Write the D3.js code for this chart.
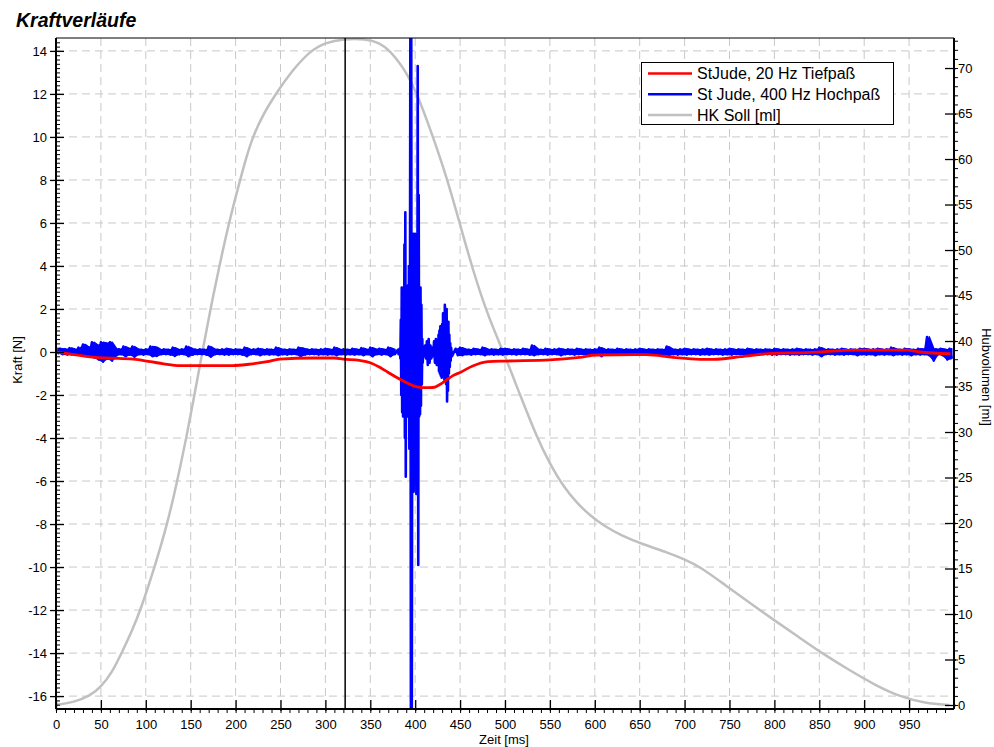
<!DOCTYPE html>
<html><head><meta charset="utf-8">
<script src="https://cdn.jsdelivr.net/npm/d3@7"></script>
<style>
body{margin:0;background:#fff;}
text{font-family:"Liberation Sans", Arial, sans-serif;}
</style>
</head><body>
<svg id="c" width="994" height="747"></svg>
<script>
// ---------------- DATA ----------------
const chartTitle = "Kraftverläufe";
const seriesNames = ["StJude, 20 Hz Tiefpaß", "St Jude, 400 Hz Hochpaß", "HK Soll [ml]"];
const timeTicks = [0,50,100,150,200,250,300,350,400,450,500,550,600,650,700,750,800,850,900,950];
const forceTicks = [-16,-14,-12,-10,-8,-6,-4,-2,0,2,4,6,8,10,12,14];
const volumeTicks = [0,5,10,15,20,25,30,35,40,45,50,55,60,65,70];
const cursorTime = 322;

// HK Soll [ml] (right axis)
const hkTime = [0,20,38,50,62,73,84,94,110,124,135,145,154,163,172,181,192,205,212,219,230,245,262,283,300,320,345,360,372,385,400,420,435,448,465,482,500,517,536,550,565,580,595,610,630,655,680,700,717,745,773,800,828,856,884,912,940,968,995];
const hkVol  = [0,0.3,1.0,2.0,3.5,5.7,8.0,10.4,15.2,19.9,24.6,29.3,34,38.8,43.5,47.8,52.8,57.7,60.2,62.4,64.8,67.2,69.6,71.9,72.8,73.2,73.2,72.8,71.9,70.3,67.8,62.4,58,53.5,47.5,42.5,38.4,34,29.3,26.5,24.0,22.2,20.8,19.7,18.6,17.6,16.8,16.0,15.2,13.2,11.2,9.3,7.4,5.5,3.8,2.2,0.9,0.2,0];

// StJude 20 Hz Tiefpass [N]
const lowTime  = [0,20,38,56,86,105,120,138,197,215,235,249,286,310,320,338,350,360,370,380,390,400,410,420,428,435,442,450,464,481,502,550,583,602,658,687,717,732,762,799,836,892,948,962,996];
const lowForce = [0,-0.12,-0.23,-0.28,-0.33,-0.45,-0.55,-0.63,-0.63,-0.57,-0.45,-0.33,-0.28,-0.28,-0.33,-0.39,-0.5,-0.7,-0.95,-1.2,-1.42,-1.6,-1.66,-1.65,-1.5,-1.3,-1.1,-0.95,-0.65,-0.45,-0.42,-0.37,-0.25,-0.14,-0.12,-0.25,-0.34,-0.34,-0.22,-0.06,-0.03,0.09,0.09,0,-0.08];

// St Jude 400 Hz Hochpass: peak values per 5 ms bin (null = burst window)
const highBinMs = 5;
const highPeakPos = [
 .12,.15,.12,.18,.12,.2,.35,.2,.45,.3,.45,.4,.45,.15,.12,.25,.15,.25,.12,.1,
 .12,.25,.22,.1,.12,.1,.2,.1,.12,.25,.15,.1,.12,.1,.25,.12,.1,.12,.15,.1,
 .12,.1,.2,.1,.12,.15,.1,.12,.1,.2,.12,.1,.12,.1,.2,.15,.1,.12,.1,.12,
 .15,.1,.2,.1,.12,.1,.15,.1,.18,.1,.2,.12,.15,.1,.2,.12,null,null,null,null,
 null,null,null,null,null,null,null,null,null,.15,.2,.12,.1,.15,.1,.2,.1,.12,.1,.15,
 .15,.1,.12,.1,.15,.1,.3,.12,.1,.15,.1,.12,.15,.1,.12,.1,.15,.1,.12,.1,
 .12,.2,.1,.12,.1,.15,.1,.12,.1,.12,.15,.1,.12,.1,.12,.1,.25,.12,.1,.12,
 .15,.1,.12,.1,.12,.15,.1,.12,.1,.12,.15,.1,.12,.1,.15,.1,.12,.1,.12,.1,
 .15,.1,.12,.1,.12,.15,.1,.12,.1,.12,.2,.1,.12,.1,.12,.15,.1,.12,.1,.15,
 .15,.1,.12,.15,.1,.12,.2,.12,.1,.15,.12,.1,.15,.12,.7,.15,.12,.15,.1,.15];
const highPeakNeg = [
 -.05,-.1,-.12,-.1,-.12,-.12,-.15,-.18,-.25,-.35,-.45,-.3,-.4,-.15,-.1,-.2,-.12,-.22,-.1,-.12,
 -.1,-.2,-.18,-.1,-.1,-.12,-.18,-.1,-.1,-.2,-.12,-.1,-.1,-.12,-.22,-.1,-.1,-.12,-.12,-.1,
 -.1,-.12,-.2,-.1,-.1,-.15,-.1,-.12,-.1,-.15,-.1,-.12,-.1,-.1,-.2,-.12,-.1,-.1,-.12,-.1,
 -.12,-.1,-.15,-.1,-.12,-.1,-.12,-.1,-.15,-.1,-.2,-.1,-.12,-.1,-.2,-.1,null,null,null,null,
 null,null,null,null,null,null,null,null,null,-.15,-.15,-.1,-.12,-.1,-.1,-.15,-.1,-.12,-.1,-.12,
 -.1,-.1,-.12,-.1,-.1,-.12,-.15,-.1,-.1,-.12,-.1,-.1,-.15,-.1,-.1,-.12,-.1,-.1,-.12,-.1,
 -.1,-.2,-.1,-.12,-.1,-.12,-.1,-.1,-.12,-.1,-.12,-.1,-.1,-.12,-.1,-.1,-.15,-.1,-.12,-.1,
 -.12,-.1,-.1,-.12,-.1,-.12,-.1,-.1,-.12,-.1,-.12,-.1,-.1,-.12,-.1,-.1,-.12,-.1,-.1,-.12,
 -.12,-.1,-.1,-.12,-.1,-.12,-.1,-.1,-.12,-.1,-.2,-.1,-.1,-.12,-.1,-.12,-.1,-.1,-.15,-.1,
 -.12,-.1,-.15,-.1,-.12,-.1,-.15,-.1,-.12,-.1,-.15,-.1,-.12,-.1,-.15,-.4,-.1,-.15,-.35,-.3];
// burst (valve closing) read sample by sample
const burstTime  = [380.5,381.5,382.5,383,383.5,384,384.5,385,385.5,386,386.5,387,387.5,388,388.5,389,389.5,390,390.5,391,391.5,392,392.5,393,393.5,394.2,394.6,395.2,395.6,396.2,396.8,397.3,397.8,398.3,398.8,399.3,399.8,400.3,400.8,401.3,401.8,402.3,402.8,403.4,403.9,404.4,404.9,405.4,405.9,406.4,406.9,407.4,407.9,408.4,409,410,411,412,413,414,415,416,417,418,419,420,421,422,423,424,425,425.5,426,426.5,427,427.5,428,428.5,429,429.5,430,430.5,431,431.5,432,432.5,433,433.5,434,434.5,435,435.5,436,436.5,437,437.5,438,438.5,439,439.5,440,441];
const burstForce = [0.1,-0.1,0.15,0.1,-0.3,1.5,-2.0,3.0,-2.8,2.6,-3.0,3.0,-2.6,5.0,-4.0,6.5,-5.8,3.0,-2.9,2.8,-3.0,3.1,-2.9,4.0,-4.5,3.0,15,-17,15,-17,3.0,-3.0,5.5,-6.5,3.0,-6.0,5.5,-3.0,3.1,-6.6,5.2,-3.0,13.3,-9.9,7.3,-3.0,3.0,-2.9,3.0,-2.5,2.2,-1.5,0.6,-0.5,0.2,-0.2,0.3,-0.3,0.5,-0.6,0.6,-0.5,0.3,-0.3,0.2,-0.2,0.5,-0.5,0.6,-0.6,0.2,-0.2,0.8,-0.9,1.0,-1.0,1.2,-1.1,1.0,-1.2,1.3,-1.0,1.8,-1.0,1.1,-1.3,2.2,-1.0,1.3,-1.5,2.0,-2.3,1.2,-1.8,1.4,-1.0,0.8,-0.7,0.4,-0.4,0.2,-0.2];

// ---------------- CHART ----------------
const svg = d3.select("#c");
const X0 = 56, X1 = 954, Y0 = 38, Y1 = 709;
const x  = d3.scaleLinear().domain([0,1000]).range([X0,X1]);
const yF = d3.scaleLinear().domain([-16.6,14.6]).range([Y1,Y0]);
const yV = d3.scaleLinear().domain([-0.44,73.3]).range([Y1,Y0]);

svg.append("rect").attr("width",994).attr("height",747).attr("fill","#fff");

// title
svg.append("text").attr("x",16).attr("y",26.5).text(chartTitle)
  .attr("font-size",19.5).attr("font-weight","bold").attr("font-style","italic");

// grid
const grid = svg.append("g").attr("stroke","#c8c8c8").attr("stroke-width",1).attr("stroke-dasharray","8,5");
grid.selectAll(".h").data(forceTicks).join("line")
  .attr("x1",X0).attr("x2",X1).attr("y1",d=>yF(d)).attr("y2",d=>yF(d));
grid.selectAll(".v").data(timeTicks.filter(d=>d>0)).join("line")
  .attr("y1",Y0).attr("y2",Y1).attr("x1",d=>x(d)).attr("x2",d=>x(d));

// clip
svg.append("clipPath").attr("id","clip").append("rect")
  .attr("x",X0).attr("y",Y0).attr("width",X1-X0).attr("height",Y1-Y0);
const plot = svg.append("g").attr("clip-path","url(#clip)");

// gray volume curve
plot.append("path")
  .datum(hkTime.map((t,i)=>[t,hkVol[i]]))
  .attr("fill","none").attr("stroke","#c0c0c0").attr("stroke-width",2.5)
  .attr("d", d3.line().x(d=>x(d[0])).y(d=>yV(d[1])).curve(d3.curveBasis));

// blue high-pass
const blueBins = [];
highPeakPos.forEach((v,i)=>{ if (v!==null) blueBins.push([i*highBinMs, v, highPeakNeg[i]]); });
const segA = blueBins.filter(d=>d[0]<380), segB = blueBins.filter(d=>d[0]>440);
const env = d3.area().x(d=>x(d[0]+highBinMs/2)).y0(d=>yF(d[2])).y1(d=>yF(d[1]));
[segA, segB].forEach(seg=>{
  plot.append("path").datum(seg).attr("fill","#0000ff").attr("stroke","#0000ff")
    .attr("stroke-width",1.6).attr("stroke-linejoin","round").attr("d", env);
});
const bluePts = [];
blueBins.forEach(d=>{ bluePts.push([d[0], d[1]]); bluePts.push([d[0]+highBinMs/2, d[2]]); });
burstTime.forEach((t,i)=>bluePts.push([t, burstForce[i]]));
bluePts.sort((a,b)=>a[0]-b[0]);
plot.append("path").datum(bluePts)
  .attr("fill","none").attr("stroke","#0000ff").attr("stroke-width",2.6).attr("stroke-linejoin","round")
  .attr("d", d3.line().x(d=>x(d[0])).y(d=>yF(d[1])));

// red low-pass
plot.append("path")
  .datum(lowTime.map((t,i)=>[t,lowForce[i]]))
  .attr("fill","none").attr("stroke","#ff0000").attr("stroke-width",2.8)
  .attr("d", d3.line().x(d=>x(d[0])).y(d=>yF(d[1])).curve(d3.curveMonotoneX));

// cursor
svg.append("line").attr("x1",x(cursorTime)).attr("x2",x(cursorTime))
  .attr("y1",Y0).attr("y2",Y1).attr("stroke","#000").attr("stroke-width",1.5);

// axes
function style(g){ g.select(".domain").remove(); g.selectAll("line").attr("stroke","#000").attr("stroke-width",1.3); g.selectAll("text").attr("font-size",13).attr("fill","#000").attr("font-family","Liberation Sans, Arial, sans-serif"); }
const fmt = d=>String(d);
// left
svg.append("g").attr("transform",`translate(${X0},0)`)
  .call(d3.axisLeft(yF).tickValues(forceTicks).tickSize(6).tickPadding(3).tickFormat(fmt)).call(style);
svg.append("g").attr("transform",`translate(${X0},0)`)
  .call(d3.axisRight(yF).tickValues(forceTicks).tickSize(8).tickFormat("")).call(style);
svg.append("g").attr("transform",`translate(${X0},0)`)
  .call(d3.axisRight(yF).tickValues(d3.range(-82,73).map(d=>d/5)).tickSize(4).tickFormat("")).call(style)
  .selectAll("line").attr("stroke-width",1);
// bottom
svg.append("g").attr("transform",`translate(0,${Y1})`)
  .call(d3.axisTop(x).tickValues(timeTicks).tickSize(9).tickFormat("")).call(style);
svg.append("g").attr("transform",`translate(0,${Y1})`)
  .call(d3.axisBottom(x).tickValues(timeTicks).tickSize(2).tickPadding(9).tickFormat(fmt)).call(style);
svg.append("g").attr("transform",`translate(0,${Y1})`)
  .call(d3.axisBottom(x).tickValues(d3.range(0,1000,10)).tickSize(4).tickFormat("")).call(style)
  .selectAll("line").attr("stroke-width",1);
// right
svg.append("g").attr("transform",`translate(${X1},0)`)
  .call(d3.axisLeft(yV).tickValues(volumeTicks).tickSize(9).tickFormat("")).call(style);
svg.append("g").attr("transform",`translate(${X1},0)`)
  .call(d3.axisRight(yV).tickValues(volumeTicks).tickSize(2).tickPadding(2).tickFormat(fmt)).call(style);
svg.append("g").attr("transform",`translate(${X1},0)`)
  .call(d3.axisRight(yV).tickValues(d3.range(0,74,1)).tickSize(4).tickFormat("")).call(style)
  .selectAll("line").attr("stroke-width",1);

// frame
svg.append("line").attr("x1",X0).attr("x2",X1).attr("y1",Y0).attr("y2",Y0).attr("stroke","#000").attr("stroke-width",1.2);
svg.append("line").attr("x1",X0).attr("x2",X1).attr("y1",Y1).attr("y2",Y1).attr("stroke","#000").attr("stroke-width",2);
svg.append("line").attr("x1",X0).attr("x2",X0).attr("y1",Y0).attr("y2",Y1).attr("stroke","#000").attr("stroke-width",2);
svg.append("line").attr("x1",X1).attr("x2",X1).attr("y1",Y0).attr("y2",Y1).attr("stroke","#000").attr("stroke-width",2);

// axis titles
svg.append("text").attr("transform","translate(22,360) rotate(-90)").attr("text-anchor","middle")
  .attr("font-size",13).text("Kraft [N]");
svg.append("text").attr("transform","translate(982,377) rotate(90)").attr("text-anchor","middle")
  .attr("font-size",13).text("Hubvolumen [ml]");
svg.append("text").attr("x",504).attr("y",743.5).attr("text-anchor","middle")
  .attr("font-size",13).text("Zeit [ms]");

// legend
const lg = svg.append("g");
lg.append("rect").attr("x",641.5).attr("y",62.5).attr("width",252).attr("height",62)
  .attr("fill","#fff").attr("stroke","#000").attr("stroke-width",1);
const legColors = ["#ff0000","#0000ff","#c0c0c0"];
const legRows = lg.selectAll(".row").data(seriesNames).join("g")
  .attr("transform",(d,i)=>`translate(0,${73.5 + i*20.8})`);
legRows.append("line").attr("x1",648).attr("x2",692).attr("stroke",(d,i)=>legColors[i]).attr("stroke-width",2.5);
legRows.append("text").attr("x",697).attr("y",5.5).attr("font-size",16).text(d=>d);
</script>
</body></html>
